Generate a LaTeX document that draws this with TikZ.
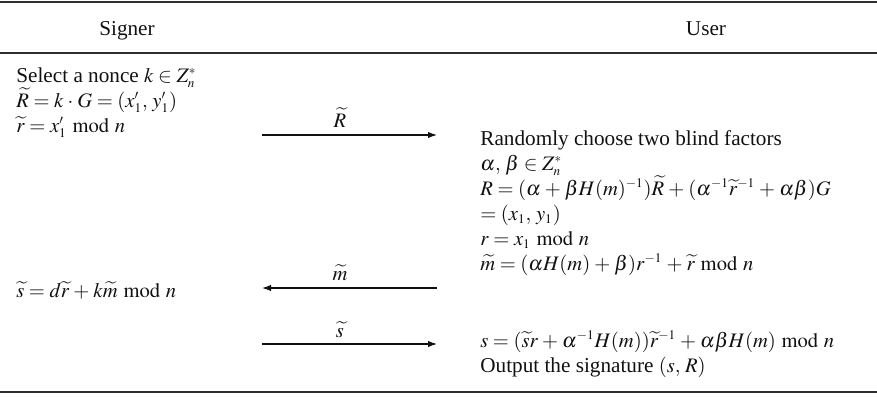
\documentclass[tikz,border=0pt]{standalone}
\usepackage{mathptmx}
\usepackage{fontspec}
\setmainfont{Liberation Serif}
\usetikzlibrary{arrows.meta,positioning}
\DeclareMathSizes{10.6}{10.3}{6.6}{5}
\definecolor{ProtoRule}{HTML}{2E2E2E}
\definecolor{ProtoText}{HTML}{111111}
\newcommand{\protofont}{\fontsize{10.6}{12.5}\selectfont\lineskiplimit=-20pt\lineskip=0pt%
  \thickmuskip=4mu plus 2mu\medmuskip=3.5mu plus 2mu minus 2mu}
\tikzset{
  proto head/.style={
    text=ProtoText,
    inner sep=0pt,
    anchor=base,
    font=\protofont
  },
  proto block/.style={
    text=ProtoText,
    inner sep=0pt,
    anchor=base west,
    align=left,
    font=\protofont
  },
  proto msg label/.style={
    text=ProtoText,
    inner sep=0pt,
    anchor=base,
    font=\protofont
  },
  proto msg/.style={-{Latex[length=4.5pt,width=3.2pt]},draw=ProtoText,line width=0.6pt},
  proto rule/.style={draw=ProtoRule,line width=0.75pt}
}

\begin{document}
\begin{tikzpicture}[x=0.5pt,y=-0.5pt]
  \useasboundingbox (0,0) rectangle (877,396);

  % table rules
  \coordinate (topL) at (0,2);   \coordinate (topR) at (877,2);
  \coordinate (midL) at (0,53);  \coordinate (midR) at (877,53);
  \coordinate (botL) at (0,392); \coordinate (botR) at (877,392);
  \draw[proto rule] (topL) -- (topR);
  \draw[proto rule] (midL) -- (midR);
  \draw[proto rule] (botL) -- (botR);

  \node[proto head] (signer) at (127,35) {Signer};
  \node[proto head] (user) at (706,35) {User};

  % multi-line blocks sit on the baseline of their last line
  \node[proto block] (nonce) at (16,132) {Select a nonce $k \in Z_n^*$\\
    $\widetilde{R} = k \cdot G = (x_1',\, y_1')$\\
    $\widetilde{r} = x_1' \bmod n$};
  \node[proto block] (blind) at (480,270) {Randomly choose two blind factors\\
    $\alpha,\, \beta \in Z_n^*$\\
    $R = (\alpha + \beta H(m)^{-1})\widetilde{R} + (\alpha^{-1}\widetilde{r}^{-1} + \alpha\beta)G$\\
    $= (x_1,\, y_1)$\\
    $r = x_1 \bmod n$\\
    $\widetilde{m} = (\alpha H(m) + \beta)r^{-1} + \widetilde{r} \bmod n$};
  \node[proto block] (sign) at (16,297) {$\widetilde{s} = d\widetilde{r} + k\widetilde{m} \bmod n$};
  \node[proto block] (unblind) at (480,372) {$s = (\widetilde{s}r + \alpha^{-1}H(m))\widetilde{r}^{-1} + \alpha\beta H(m) \bmod n$\\
    Output the signature $(s,\, R)$};

  % messages
  \coordinate (sendRs) at (262,135); \coordinate (sendRu) at (437,135);
  \coordinate (sendMs) at (262,288); \coordinate (sendMu) at (437,288);
  \coordinate (sendSs) at (262,344); \coordinate (sendSu) at (437,344);
  \draw[proto msg] (sendRs) -- (sendRu);
  \draw[proto msg] (sendMu) -- (sendMs);
  \draw[proto msg] (sendSs) -- (sendSu);
  \node[proto msg label] (labR) at (340,127) {$\widetilde{R}$};
  \node[proto msg label] (labM) at (340,280) {$\widetilde{m}$};
  \node[proto msg label] (labS) at (340,337) {$\widetilde{s}$};
\end{tikzpicture}
\end{document}
